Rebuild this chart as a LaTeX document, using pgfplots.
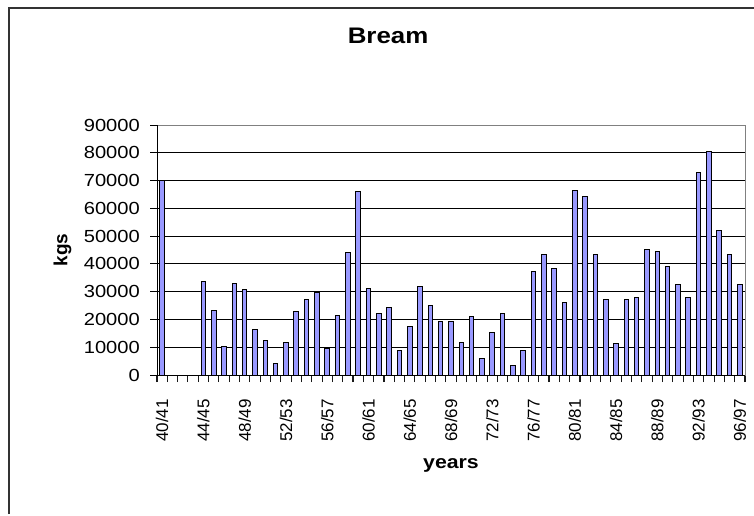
\documentclass[border=0pt]{standalone}
\usepackage{fontspec}
\setmainfont{Liberation Sans}
\newfontfamily\wide{Liberation Sans}[FakeStretch=1.15]
\usepackage{pgfplots}
\pgfplotsset{compat=1.18}
\definecolor{barblue}{RGB}{153,153,255}
\begin{document}
\begin{tikzpicture}[x=1pt,y=1pt]
\path[use as bounding box] (0,0) rectangle (754,515);
\draw[line width=1.3pt, black!80] (9,1) -- (9,507) -- (790,507);
\begin{axis}[
  at={(157pt,140pt)}, anchor=south west,
  scale only axis, width=588pt, height=250pt,
  xmin=-0.5, xmax=56.5, ymin=0, ymax=90000,
  ytick={0,10000,...,90000},
  scaled y ticks=false,
  /pgf/number format/.cd, 1000 sep={}, assume math mode=true, /pgfplots/.cd,
  ymajorgrids, grid style={black, line width=0.9pt},
  xtick={-0.5,0.5,...,56.5},
  xticklabels={},
  extra x ticks={0,4,...,56},
  extra x tick labels={40/41,44/45,48/49,52/53,56/57,60/61,64/65,68/69,72/73,76/77,80/81,84/85,88/89,92/93,96/97},
  extra x tick style={grid=none, major tick length=0pt},
  x tick style={black!90, line width=1.1pt},
  y tick style={black, line width=1pt},
  xtick pos=bottom, ytick pos=left,
  xtick align=outside, ytick align=outside,
  major tick length=7pt,
  axis line style={draw=gray, line width=1pt},
  xticklabel style={rotate=90, anchor=east, inner sep=0pt, font=\fontsize{17}{19}\selectfont},
  yticklabel style={anchor=east, inner sep=0pt, font=\wide\fontsize{17.5}{19}\selectfont},
  xticklabel shift={24pt},
  yticklabel shift={10pt},
  title={Bream},
  title style={at={(rel axis cs:0.393,1.304)}, anchor=base, inner sep=0pt, font=\wide\bfseries\fontsize{22.5}{25}\selectfont},
  xlabel={years},
  xlabel style={at={(rel axis cs:0.5,-0.36)}, anchor=center, inner sep=0pt, font=\wide\bfseries\fontsize{18.5}{20}\selectfont},
  ylabel={kgs},
  ylabel style={at={(rel axis cs:-0.1607,0.5)}, anchor=center, rotate=0, inner sep=0pt, font=\bfseries\fontsize{19}{20}\selectfont},
  ybar, bar width=4.6pt,
]
\addplot[fill=barblue, draw=black, line width=1pt] coordinates {
(0,70000) (1,0) (2,0) (3,0) (4,33600) (5,23200) (6,10100) (7,33000) (8,30700) (9,16300)
(10,12300) (11,4200) (12,11800) (13,22700) (14,27300) (15,29600) (16,9500) (17,21400) (18,44000) (19,65900)
(20,31200) (21,22100) (22,24300) (23,8900) (24,17400) (25,31900) (26,24900) (27,19200) (28,19200) (29,11800)
(30,20900) (31,5900) (32,15300) (33,22100) (34,3600) (35,8900) (36,37100) (37,43400) (38,38200) (39,26200)
(40,66500) (41,64200) (42,43400) (43,27300) (44,11200) (45,27300) (46,27800) (47,45100) (48,44500) (49,38900)
(50,32500) (51,27800) (52,72900) (53,80300) (54,52100) (55,43400) (56,32500)
};
\draw[black, line width=1pt] (rel axis cs:0,1) -- (rel axis cs:0,0) -- (rel axis cs:1,0);
\end{axis}
\end{tikzpicture}
\end{document}
